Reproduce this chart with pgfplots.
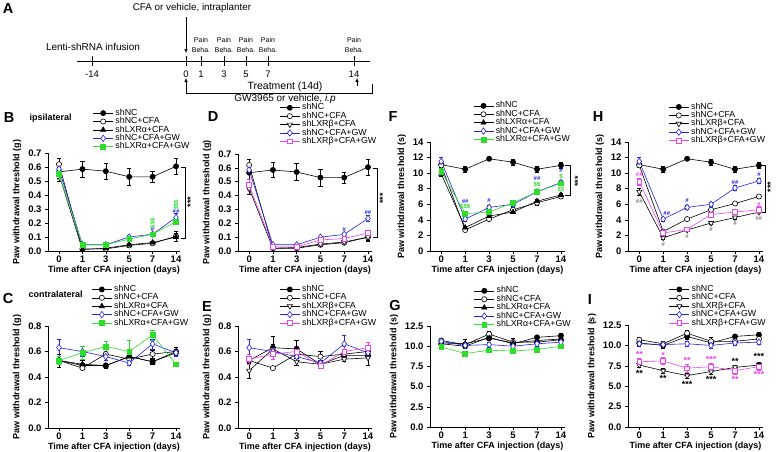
\documentclass[border=0pt]{standalone}
\usepackage{fontspec}
\setmainfont{Liberation Sans}
\usepackage{pgfplots}
\pgfplotsset{compat=1.18}
\usetikzlibrary{arrows.meta}

\definecolor{gwblue}{RGB}{35,35,225}
\definecolor{gwgreen}{RGB}{45,220,45}
\definecolor{gwpink}{RGB}{235,70,235}

\pgfplotsset{
  panel/.style={
    scale only axis, clip=false,
    axis x line*=bottom, axis y line*=left,
    axis line style={-, line width=0.6pt},
    every tick/.style={black, line width=0.6pt},
    tick align=outside, major tick length=3pt,
    xmin=-0.47, xmax=5.17,
    xtick={0,1,2,3,4,5}, xticklabels={0,1,3,5,7,14},
    /pgf/number format/assume math mode=true,
    ticklabel style={font=\bfseries\fontsize{9.5}{10}\selectfont},
    xticklabel style={inner sep=2pt},
    label style={font=\bfseries\fontsize{9}{10}\selectfont},
    xlabel style={yshift=3pt},
    xlabel={Time after CFA injection (days)},
    legend cell align=left,
    legend style={draw=none, fill=none, anchor=north west,
      font=\fontsize{8.8}{8}\selectfont, inner sep=0pt, outer sep=0pt,
      row sep=0pt, column sep=2pt,
      nodes={inner sep=0pt, text height=6.3pt, text depth=2.1pt}},
    legend image code/.code={\draw[mark repeat=2,mark phase=2,##1] plot coordinates {(0pt,0pt) (10pt,0pt) (20pt,0pt)};},
    every axis plot/.append style={line width=0.6pt},
    error bars/y dir=both, error bars/y explicit,
    error bars/error bar style={line width=0.5pt},
    error bars/error mark options={rotate=90, mark size=2.2pt, line width=0.5pt},
  },
  gram/.style={ymin=0, ymax=#1, ylabel={Paw withdrawal threshold (g)},
    yticklabel style={/pgf/number format/.cd, fixed, fixed zerofill, precision=1}},
  secs/.style={ymin=0, ymax=#1, ylabel={Paw withdrawal threshold (s)}},
  nc/.style={black, mark=*, mark size=2.6pt, mark options={fill=black}},
  cfa/.style={black, mark=*, mark size=2.6pt, mark options={fill=white}},
  la/.style={black, mark=triangle*, mark size=3pt, mark options={fill=black}},
  lb/.style={black, mark=triangle*, mark size=3pt, mark options={fill=white, rotate=180}},
  gw/.style={gwblue, mark=diamond*, mark size=3.2pt, mark options={fill=white}},
  lagw/.style={gwgreen, mark=square*, mark size=2.4pt, mark options={fill=gwgreen}},
  lbgw/.style={gwpink, mark=square*, mark size=2.4pt, mark options={fill=white}},
}
\tikzset{
  ann/.style={font=\bfseries\fontsize{6}{6}\selectfont, inner sep=0pt},
  star/.style={font=\bfseries\fontsize{9}{9}\selectfont, inner sep=0pt},
  plab/.style={font=\bfseries\fontsize{14.5}{15}\selectfont, inner sep=0pt},
}

\begin{document}
\begin{tikzpicture}
\path[use as bounding box, fill=white] (0pt,0pt) rectangle (778pt,-451pt);

% ---- panel A: timeline
\begin{scope}[x=1pt, y=-1pt, font=\fontsize{10}{11}\selectfont]
  \node[plab] at (8,9) {A};
  \node[font=\fontsize{9.8}{10}\selectfont] at (192,8) {CFA or vehicle, intraplanter};
  \draw[-{Latex[length=4pt,width=3.5pt]}, line width=0.6pt] (186,17) -- (186,53);
  \node at (93,47) {Lenti-shRNA infusion};
  \draw[line width=0.6pt] (77,61) -- (370,61);
  \foreach \x/\l in {92/-14,186/0,201/1,224/3,246/5,268/7,354/14} {
    \draw[line width=0.6pt] (\x,56) -- (\x,66);
    \node[font=\fontsize{9.5}{10}\selectfont] at (\x,74) {\l};
  }
  \foreach \x in {201,224,246,268,354} {
    \node[align=center, font=\fontsize{7}{10}\selectfont] at (\x,45) {Pain\\Beha.};
  }
  \draw[-{Latex[length=4pt,width=3.5pt]}, line width=0.6pt] (186,93) -- (186,78);
  \draw[line width=0.6pt] (186,93) -- (372,93) -- (372,84);
  \draw[-{Latex[length=4pt,width=3.5pt]}, line width=0.6pt] (357,86) -- (357,78);
  \node[font=\fontsize{10.5}{11}\selectfont] at (285,86.5) {Treatment (14d)};
  \node at (285,99) {GW3965 or vehicle, \textit{i.p}};

  \node[plab] at (9,118) {B};
  \node[plab] at (213,117) {D};
  \node[plab] at (393,117) {F};
  \node[plab] at (598,117) {H};
  \node[plab] at (8,298) {C};
  \node[plab] at (207,307) {E};
  \node[plab] at (395,305) {G};
  \node[plab] at (590,300) {I};
  \node[anchor=west, font=\bfseries\fontsize{9}{10}\selectfont] at (26,118) {ipsilateral};
  \node[anchor=west, font=\bfseries\fontsize{9}{10}\selectfont] at (25,294) {contralateral};
\end{scope}

% ---- B
\begin{axis}[panel, gram=0.7, at={(48pt,-251pt)}, anchor=south west,
  width=132pt, height=98pt, ytick={0,0.1,0.2,0.3,0.4,0.5,0.6,0.7},
  legend style={at={(0.34,1.45)}}]
\addplot[nc] coordinates {(0,0.565)+-(0,0.045) (1,0.585)+-(0,0.055) (2,0.57)+-(0,0.06) (3,0.53)+-(0,0.06) (4,0.53)+-(0,0.04) (5,0.605)+-(0,0.055)};
\addplot[cfa] coordinates {(0,0.62)+-(0,0.04) (1,0.015)+-(0,0.005) (2,0.015)+-(0,0.005) (3,0.04)+-(0,0.01) (4,0.055)+-(0,0.01) (5,0.105)+-(0,0.035)};
\addplot[la] coordinates {(0,0.55)+-(0,0.05) (1,0.01)+-(0,0.005) (2,0.02)+-(0,0.005) (3,0.045)+-(0,0.01) (4,0.06)+-(0,0.01) (5,0.10)+-(0,0.03)};
\addplot[gw] coordinates {(0,0.585)+-(0,0.03) (1,0.045)+-(0,0.005) (2,0.045)+-(0,0.005) (3,0.10)+-(0,0.01) (4,0.12)+-(0,0.01) (5,0.24)+-(0,0.03)};
\addplot[lagw] coordinates {(0,0.55)+-(0,0.04) (1,0.045)+-(0,0.005) (2,0.045)+-(0,0.005) (3,0.085)+-(0,0.01) (4,0.12)+-(0,0.015) (5,0.21)+-(0,0.02)};
\legend{shNC, shNC+CFA, shLXRα+CFA, shNC+CFA+GW, shLXRα+CFA+GW}
\node[ann, gwblue] at (4,0.155) {\#};
\node[ann, gwblue] at (5,0.285) {\#\#};
\node[ann, gwgreen, rotate=90] at (4,0.20) {\$\$\$};
\node[ann, gwgreen, rotate=90] at (5,0.33) {\$\$\$};
\draw[line width=0.5pt] (5.2,0.6) -- (5.38,0.6) -- (5.38,0.09) -- (5.2,0.09);
\node[star, rotate=90] at (5.62,0.35) {***};
\end{axis}

% ---- D
\begin{axis}[panel, gram=0.7, at={(238pt,-251pt)}, anchor=south west,
  width=134pt, height=97pt, ytick={0,0.1,0.2,0.3,0.4,0.5,0.6,0.7},
  legend style={at={(0.31,1.52)}}]
\addplot[nc] coordinates {(0,0.565)+-(0,0.045) (1,0.585)+-(0,0.055) (2,0.57)+-(0,0.06) (3,0.53)+-(0,0.06) (4,0.53)+-(0,0.04) (5,0.605)+-(0,0.055)};
\addplot[cfa] coordinates {(0,0.62)+-(0,0.04) (1,0.02)+-(0,0.005) (2,0.02)+-(0,0.005) (3,0.045)+-(0,0.01) (4,0.06)+-(0,0.01) (5,0.10)+-(0,0.03)};
\addplot[lb] coordinates {(0,0.45)+-(0,0.04) (1,0.02)+-(0,0.005) (2,0.025)+-(0,0.005) (3,0.05)+-(0,0.01) (4,0.065)+-(0,0.01) (5,0.10)+-(0,0.02)};
\addplot[gw] coordinates {(0,0.585)+-(0,0.03) (1,0.045)+-(0,0.005) (2,0.045)+-(0,0.005) (3,0.10)+-(0,0.01) (4,0.12)+-(0,0.01) (5,0.235)+-(0,0.02)};
\addplot[lbgw] coordinates {(0,0.475)+-(0,0.04) (1,0.03)+-(0,0.005) (2,0.03)+-(0,0.005) (3,0.08)+-(0,0.01) (4,0.09)+-(0,0.01) (5,0.13)+-(0,0.02)};
\legend{shNC, shNC+CFA, shLXRβ+CFA, shNC+CFA+GW, shLXRβ+CFA+GW}
\node[ann, gwblue] at (4,0.155) {\#};
\node[ann, gwblue] at (5,0.28) {\#\#};
\draw[line width=0.5pt] (5.2,0.6) -- (5.38,0.6) -- (5.38,0.1) -- (5.2,0.1);
\node[star, rotate=90] at (5.62,0.38) {***};
\end{axis}

% ---- F
\begin{axis}[panel, secs=14, at={(430pt,-251pt)}, anchor=south west,
  width=135pt, height=109pt, ytick={0,2,...,14},
  legend style={at={(0.32,1.37)}}]
\addplot[nc] coordinates {(0,11.1)+-(0,0.3) (1,10.5)+-(0,0.4) (2,11.85)+-(0,0.2) (3,11.4)+-(0,0.4) (4,10.5)+-(0,0.4) (5,11.0)+-(0,0.4)};
\addplot[cfa] coordinates {(0,11.0)+-(0,0.3) (1,2.7)+-(0,0.2) (2,4.1)+-(0,0.2) (3,5.3)+-(0,0.3) (4,6.2)+-(0,0.3) (5,7.0)+-(0,0.2)};
\addplot[la] coordinates {(0,9.9)+-(0,0.3) (1,3.0)+-(0,0.2) (2,4.5)+-(0,0.2) (3,5.0)+-(0,0.2) (4,6.4)+-(0,0.2) (5,7.2)+-(0,0.2)};
\addplot[gw] coordinates {(0,11.5)+-(0,0.6) (1,4.1)+-(0,0.3) (2,5.6)+-(0,0.3) (3,6.0)+-(0,0.3) (4,7.6)+-(0,0.3) (5,8.8)+-(0,0.3)};
\addplot[lagw] coordinates {(0,10.2)+-(0,0.4) (1,4.8)+-(0,0.3) (2,5.0)+-(0,0.2) (3,6.2)+-(0,0.3) (4,7.6)+-(0,0.3) (5,8.7)+-(0,0.3)};
\legend{shNC, shNC+CFA, shLXRα+CFA, shNC+CFA+GW, shLXRα+CFA+GW}
\node[ann, gwblue] at (1,6.4) {\#\#};
\node[ann, gwgreen] at (1,5.7) {\$\$\$};
\node[ann, gwblue] at (2,6.5) {\#};
\node[ann, gwblue] at (4,9.3) {\#\#};
\node[ann, gwgreen] at (4,8.5) {\$\$};
\node[ann, gwblue] at (5,10.3) {\#};
\node[ann, gwgreen] at (5,9.6) {\$};
\node[ann, gwgreen] at (5,7.9) {\$\$};
\draw[line width=0.5pt] (5.15,11.0) -- (5.38,11.0) -- (5.38,7.2) -- (5.15,7.2);
\node[star, rotate=90] at (5.7,8.9) {***};
\end{axis}

% ---- H
\begin{axis}[panel, secs=14, at={(628pt,-251pt)}, anchor=south west,
  width=135pt, height=109pt, ytick={0,2,...,14},
  legend style={at={(0.30,1.36)}}]
\addplot[nc] coordinates {(0,11.1)+-(0,0.3) (1,10.5)+-(0,0.4) (2,11.85)+-(0,0.2) (3,11.4)+-(0,0.4) (4,10.5)+-(0,0.4) (5,11.0)+-(0,0.4)};
\addplot[cfa] coordinates {(0,11.0)+-(0,0.3) (1,2.5)+-(0,0.2) (2,4.1)+-(0,0.2) (3,5.3)+-(0,0.2) (4,6.1)+-(0,0.2) (5,7.0)+-(0,0.2)};
\addplot[lb] coordinates {(0,7.6)+-(0,0.4) (1,1.7)+-(0,0.2) (2,2.7)+-(0,0.2) (3,3.6)+-(0,0.2) (4,4.3)+-(0,0.2) (5,5.0)+-(0,0.2)};
\addplot[gw] coordinates {(0,11.5)+-(0,0.6) (1,4.1)+-(0,0.3) (2,5.6)+-(0,0.3) (3,6.0)+-(0,0.3) (4,8.1)+-(0,0.3) (5,9.0)+-(0,0.3)};
\addplot[lbgw] coordinates {(0,8.9)+-(0,0.5) (1,2.3)+-(0,0.3) (2,2.8)+-(0,0.2) (3,4.7)+-(0,0.4) (4,5.0)+-(0,0.3) (5,5.3)+-(0,0.4)};
\legend{shNC, shNC+CFA, shLXRβ+CFA, shNC+CFA+GW, shLXRβ+CFA+GW}
\node[ann, gwblue] at (1.15,4.8) {\#\#};
\node[ann, gwblue] at (2,6.5) {\#};
\node[ann, gwblue] at (4,8.8) {\#\#};
\node[ann, gwblue] at (5,9.8) {\#};
\node[ann, gwpink] at (5,6.0) {\#};
\node[ann, gwpink] at (0,9.8) {\#\#};
\node[ann, gray] at (0,6.4) {\#\#};
\node[ann, gray] at (1,0.9) {\#};
\node[ann, gray] at (2,1.9) {\#};
\node[ann, gray] at (3,2.8) {\#};
\node[ann, gray] at (4,3.6) {\#};
\node[ann, gray] at (5,4.2) {\#\#};
\draw[line width=0.5pt] (5.12,11.0) -- (5.27,11.0) -- (5.27,5.0) -- (5.12,5.0);
\node[star, rotate=90] at (5.48,8.2) {***};
\end{axis}

% ---- C
\begin{axis}[panel, gram=0.8, at={(48pt,-428pt)}, anchor=south west,
  width=132pt, height=102pt, ytick={0,0.2,0.4,0.6,0.8},
  legend style={at={(0.33,1.40)}}]
\addplot[nc] coordinates {(0,0.53)+-(0,0.03) (1,0.49)+-(0,0.02) (2,0.49)+-(0,0.02) (3,0.56)+-(0,0.03) (4,0.52)+-(0,0.02) (5,0.59)+-(0,0.02)};
\addplot[cfa] coordinates {(0,0.53)+-(0,0.03) (1,0.47)+-(0,0.01) (2,0.58)+-(0,0.02) (3,0.54)+-(0,0.03) (4,0.58)+-(0,0.03) (5,0.60)+-(0,0.02)};
\addplot[la] coordinates {(0,0.53)+-(0,0.05) (1,0.50)+-(0,0.03) (2,0.49)+-(0,0.02) (3,0.56)+-(0,0.02) (4,0.52)+-(0,0.02) (5,0.60)+-(0,0.03)};
\addplot[gw] coordinates {(0,0.63)+-(0,0.07) (1,0.60)+-(0,0.04) (2,0.56)+-(0,0.03) (3,0.51)+-(0,0.02) (4,0.66)+-(0,0.04) (5,0.59)+-(0,0.03)};
\addplot[lagw] coordinates {(0,0.53)+-(0,0.03) (1,0.59)+-(0,0.05) (2,0.64)+-(0,0.04) (3,0.60)+-(0,0.09) (4,0.73)+-(0,0.04) (5,0.50)+-(0,0.01)};
\legend{shNC, shNC+CFA, shLXRα+CFA, shNC+CFA+GW, shLXRα+CFA+GW}
\end{axis}

% ---- E
\begin{axis}[panel, gram=0.8, at={(238pt,-428pt)}, anchor=south west,
  width=134pt, height=102pt, ytick={0,0.2,0.4,0.6,0.8},
  legend style={at={(0.31,1.40)}}]
\addplot[nc] coordinates {(0,0.53)+-(0,0.03) (1,0.63)+-(0,0.09) (2,0.62)+-(0,0.07) (3,0.50)+-(0,0.03) (4,0.57)+-(0,0.02) (5,0.57)+-(0,0.02)};
\addplot[cfa] coordinates {(0,0.53)+-(0,0.03) (1,0.47)+-(0,0.01) (2,0.58)+-(0,0.02) (3,0.56)+-(0,0.04) (4,0.58)+-(0,0.03) (5,0.60)+-(0,0.02)};
\addplot[lb] coordinates {(0,0.45)+-(0,0.06) (1,0.62)+-(0,0.04) (2,0.52)+-(0,0.03) (3,0.50)+-(0,0.02) (4,0.54)+-(0,0.02) (5,0.55)+-(0,0.06)};
\addplot[gw] coordinates {(0,0.63)+-(0,0.07) (1,0.60)+-(0,0.04) (2,0.56)+-(0,0.03) (3,0.51)+-(0,0.02) (4,0.66)+-(0,0.07) (5,0.59)+-(0,0.03)};
\addplot[lbgw] coordinates {(0,0.54)+-(0,0.04) (1,0.58)+-(0,0.04) (2,0.60)+-(0,0.04) (3,0.49)+-(0,0.02) (4,0.60)+-(0,0.04) (5,0.63)+-(0,0.04)};
\legend{shNC, shNC+CFA, shLXRβ+CFA, shNC+CFA+GW, shLXRβ+CFA+GW}
\end{axis}

% ---- G
\begin{axis}[panel, secs=12.5, at={(430pt,-427pt)}, anchor=south west,
  width=135pt, height=101pt, ytick={0,2.5,5,7.5,10,12.5},
  yticklabel style={/pgf/number format/.cd, fixed, fixed zerofill, precision=1},
  legend style={at={(0.326,1.39)}}]
\addplot[nc] coordinates {(0,10.3)+-(0,0.3) (1,10.0)+-(0,0.3) (2,11.1)+-(0,0.4) (3,10.3)+-(0,0.3) (4,11.1)+-(0,0.3) (5,11.3)+-(0,0.3)};
\addplot[cfa] coordinates {(0,10.7)+-(0,0.3) (1,10.2)+-(0,0.3) (2,11.5)+-(0,0.4) (3,10.5)+-(0,0.5) (4,10.5)+-(0,0.3) (5,10.8)+-(0,0.3)};
\addplot[la] coordinates {(0,10.4)+-(0,0.3) (1,10.3)+-(0,0.5) (2,11.0)+-(0,0.3) (3,10.4)+-(0,0.3) (4,10.7)+-(0,0.3) (5,10.9)+-(0,0.3)};
\addplot[gw] coordinates {(0,10.6)+-(0,0.3) (1,10.1)+-(0,0.3) (2,10.2)+-(0,0.3) (3,10.0)+-(0,0.3) (4,10.3)+-(0,0.3) (5,10.5)+-(0,0.3)};
\addplot[lagw] coordinates {(0,9.9)+-(0,0.3) (1,9.1)+-(0,0.3) (2,9.5)+-(0,0.3) (3,9.4)+-(0,0.3) (4,9.6)+-(0,0.3) (5,10.0)+-(0,0.3)};
\legend{shNC, shNC+CFA, shLXRα+CFA, shNC+CFA+GW, shLXRα+CFA+GW}
\end{axis}

% ---- I
\begin{axis}[panel, secs=12.5, at={(628pt,-427pt)}, anchor=south west,
  width=135pt, height=102pt, ytick={0,2.5,5,7.5,10,12.5},
  yticklabel style={/pgf/number format/.cd, fixed, fixed zerofill, precision=1},
  legend style={at={(0.304,1.39)}}]
\addplot[nc] coordinates {(0,10.3)+-(0,0.3) (1,10.0)+-(0,0.3) (2,11.1)+-(0,0.4) (3,10.3)+-(0,0.3) (4,11.1)+-(0,0.3) (5,11.3)+-(0,0.3)};
\addplot[cfa] coordinates {(0,10.7)+-(0,0.3) (1,10.2)+-(0,0.3) (2,11.5)+-(0,0.4) (3,10.5)+-(0,0.5) (4,10.5)+-(0,0.3) (5,10.8)+-(0,0.3)};
\addplot[lb] coordinates {(0,7.6)+-(0,0.3) (1,6.9)+-(0,0.3) (2,6.3)+-(0,0.3) (3,6.8)+-(0,0.3) (4,7.3)+-(0,0.3) (5,7.6)+-(0,0.3)};
\addplot[gw] coordinates {(0,10.2)+-(0,0.3) (1,10.1)+-(0,0.3) (2,10.2)+-(0,0.3) (3,10.0)+-(0,0.3) (4,10.3)+-(0,0.3) (5,10.4)+-(0,0.3)};
\addplot[lbgw] coordinates {(0,8.0)+-(0,0.4) (1,8.1)+-(0,0.4) (2,7.2)+-(0,0.5) (3,7.4)+-(0,0.4) (4,6.9)+-(0,0.4) (5,7.4)+-(0,0.4)};
\legend{shNC, shNC+CFA, shLXRβ+CFA, shNC+CFA+GW, shLXRβ+CFA+GW}
\node[star, gwpink] at (0,8.9) {**};
\node[star, gwpink] at (1,8.8) {*};
\node[star, gwpink] at (2,8.2) {**};
\node[star, gwpink] at (3,8.3) {***};
\node[star, gwpink] at (4,5.8) {**};
\node[star, gwpink] at (5,6.5) {***};
\node[star] at (0,6.6) {**};
\node[star] at (1,5.9) {**};
\node[star] at (2,5.2) {***};
\node[star] at (3,5.8) {***};
\node[star] at (4,8.1) {**};
\node[star] at (5,8.6) {***};
\end{axis}
\end{tikzpicture}
\end{document}
